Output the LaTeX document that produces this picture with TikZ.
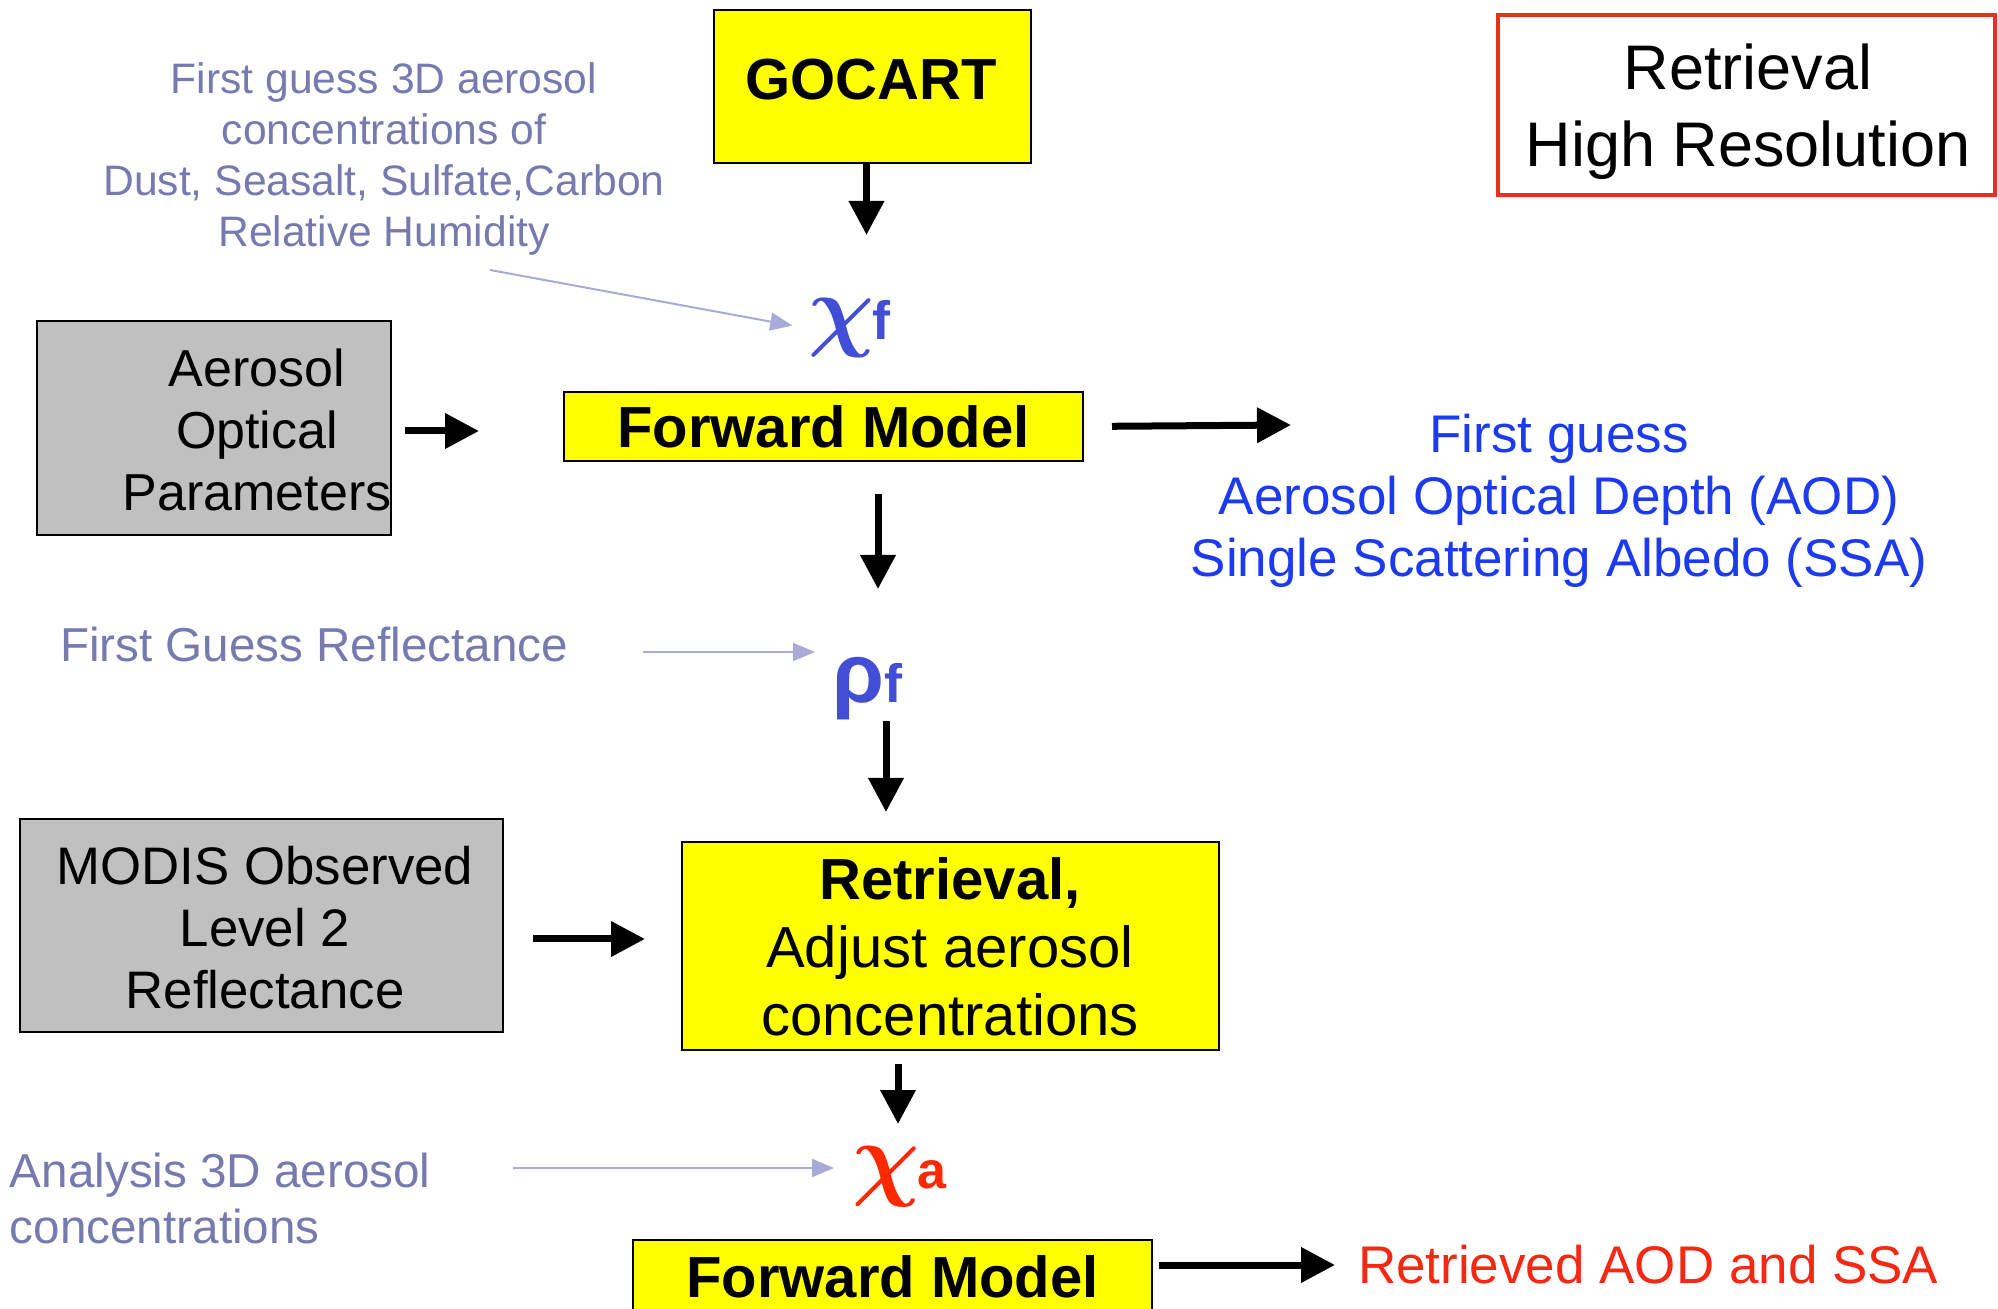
\RequirePackage{fix-cm}
\documentclass[tikz,border=0pt]{standalone}
\usepackage{amsmath}
\usepackage{fontspec}
\setmainfont{Liberation Sans}
\usetikzlibrary{arrows.meta}

\definecolor{boxyellow}{RGB}{255,255,0}
\definecolor{boxgray}{RGB}{192,192,192}
\definecolor{resred}{RGB}{232,48,30}
\definecolor{slate}{RGB}{118,122,175}
\definecolor{arrowlav}{RGB}{168,170,216}
\definecolor{symblue}{RGB}{67,78,214}
\definecolor{fgblue}{RGB}{28,58,240}
\definecolor{symred}{RGB}{255,40,0}
\definecolor{retred}{RGB}{245,40,20}

% bold slanted chi for the state symbols
\newcommand{\statechi}[1]{\fontsize{#1}{#1}\selectfont$\boldsymbol{\chi}$}

\begin{document}
\begin{tikzpicture}[x=0.5pt,y=-0.5pt,
  box/.style={draw=black, line width=1pt, inner sep=0pt, outer sep=0pt},
  yellowbox/.style={box, fill=boxyellow},
  graybox/.style={box, fill=boxgray},
  txt/.style={inner sep=0pt, outer sep=0pt, align=center},
  boldlabel/.style={font=\fontsize{29}{34}\selectfont\bfseries},
  bigarrow/.style={line width=3.5pt, -{Triangle[length=17pt,width=17pt]}},
  thinarrow/.style={line width=1pt, draw=arrowlav, -{Triangle[length=11pt,width=9pt]}},
]
\useasboundingbox (0,0) rectangle (1998,1309);
\fill[white] (0,0) rectangle (1998,1309);
\clip (0,0) rectangle (1998,1309);

% --- top row ---
\node[yellowbox, minimum width=158.5pt, minimum height=76.5pt] (gocart) at (872.5,86.5) {};
\node[txt, boldlabel] (gocarttxt) at (871,80) {GOCART};

\node[draw=resred, line width=2pt, inner sep=0pt, minimum width=248.5pt, minimum height=90pt] (res) at (1746.5,105) {};
\node[txt, font=\fontsize{31.5}{38.5}\selectfont] (restxt) at (1748,112) {Retrieval\\High Resolution};

\node[txt, text=slate, font=\fontsize{21.3}{25.5}\selectfont] (guess) at (384,159)
  {First guess 3D aerosol\\concentrations of\\Dust, Seasalt, Sulfate,Carbon\\Relative Humidity};

\node[inner sep=0pt, anchor=base west, text=symblue] (chif) at (808,340)
  {{\statechi{46}}\kern-1pt{\bfseries\fontsize{27}{27}\selectfont f}};

% --- first forward model ---
\node[graybox, minimum width=177pt, minimum height=107pt] (aop) at (214,428) {};
\node[txt, font=\fontsize{26}{31}\selectfont] (aoptxt) at (257,430) {Aerosol\\Optical\\Parameters};

\node[yellowbox, boldlabel, minimum width=259.5pt, minimum height=34.5pt] (fm1) at (823.5,426.5) {Forward Model};

\node[txt, text=fgblue, font=\fontsize{26.5}{31}\selectfont] (fgout) at (1559,501)
  {First guess\\Aerosol Optical Depth (AOD)\\Single Scattering Albedo (SSA)};

\node[txt, text=slate, font=\fontsize{23.8}{28}\selectfont] (fgr) at (314,644) {First Guess Reflectance};

\node[inner sep=0pt, anchor=base west, text=symblue] (rhof) at (832,703)
  {{\bfseries\fontsize{42}{42}\selectfont ρ}{\bfseries\fontsize{27}{27}\selectfont f}};

% --- retrieval ---
\node[graybox, minimum width=241.5pt, minimum height=106.5pt] (modis) at (261.5,925.5) {};
\node[txt, font=\fontsize{26.4}{31}\selectfont] (modistxt) at (265,928) {MODIS Observed\\Level 2\\Reflectance};

\node[yellowbox, minimum width=268.5pt, minimum height=104pt] (ret) at (950.5,946) {};
\node[txt, font=\fontsize{29}{34}\selectfont] (rettxt) at (950,947) {{\bfseries Retrieval,}\\Adjust aerosol\\concentrations};

\node[inner sep=0pt, anchor=base west, text=symred] (chia) at (852,1188)
  {{\statechi{47}}\kern-1pt{\bfseries\fontsize{26}{26}\selectfont a}};

\node[txt, anchor=west, align=left, text=slate, font=\fontsize{23.8}{28}\selectfont] (ana) at (10,1198)
  {Analysis 3D aerosol\\concentrations};

% --- final forward model ---
\node[yellowbox, boldlabel, minimum width=259.5pt, minimum height=37pt] (fm2) at (892.5,1277) {Forward Model};
\node[txt, anchor=west, text=retred, font=\fontsize{26.5}{31}\selectfont] (retd) at (1358,1265) {Retrieved AOD and SSA};

% --- connectors ---
\draw[bigarrow] ([xshift=-3pt]gocart.south) -- ++(0,72);
\coordinate (gtail) at (490,270);
\draw[thinarrow, shorten >=8pt] (gtail) -- (chif.west);

\draw[bigarrow, shorten <=7pt, shorten >=42.5pt] ([yshift=-1.5pt]aop.east) -- ([yshift=-1.5pt]aop.east -| fm1.west);
\coordinate (fgtip) at (1291,425);
\draw[bigarrow, shorten <=14.5pt] (fm1.east) -- (fgtip);
\draw[bigarrow, shorten <=16.5pt] ([xshift=27.25pt]fm1.south) -- ++(0,128);

\coordinate (rhotip) at (815,652);
\draw[thinarrow, shorten <=37.5pt] (fgr.east |- rhotip) -- (rhotip);
\coordinate (rettip) at (886,812);
\draw[bigarrow] (rettip |- rhof.south) -- (rettip);

\draw[bigarrow, shorten <=15pt, shorten >=18.5pt] ([yshift=-6.75pt]modis.east) -- ([yshift=-6.75pt]modis.east -| ret.west);
\draw[bigarrow, shorten <=7pt] ([xshift=-26.25pt]ret.south) -- ++(0,74);

\coordinate (chiatip) at (834,1168);
\draw[thinarrow, shorten <=41pt] (ana.east |- chiatip) -- (chiatip);

\draw[bigarrow, shorten <=3.5pt, shorten >=11.5pt] (fm2.east |- retd.west) -- (retd.west);
\end{tikzpicture}
\end{document}
